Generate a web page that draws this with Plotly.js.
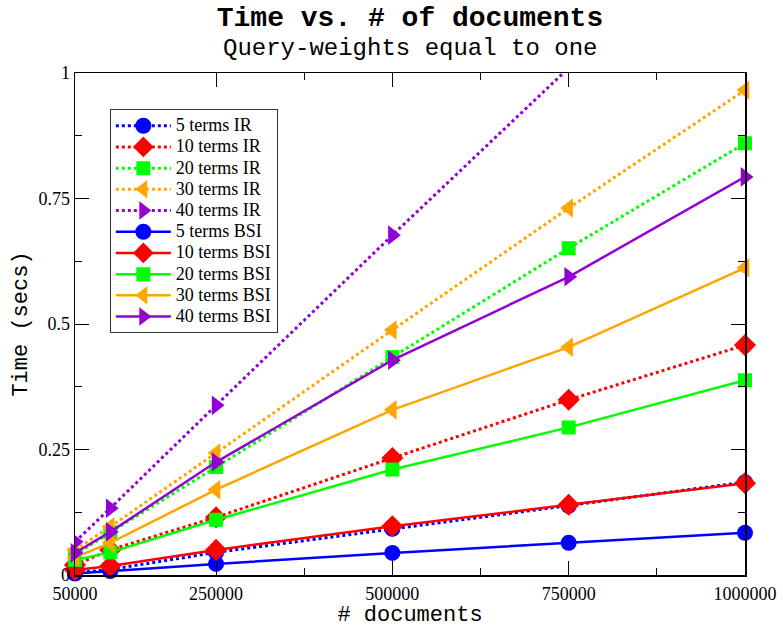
<!DOCTYPE html>
<html>
<head>
<meta charset="utf-8">
<script src="https://cdn.plot.ly/plotly-3.0.1.min.js"></script>
<style>
html,body{margin:0;padding:0;background:#fff;}
#chart{width:783px;height:628px;}
.legendtext{font-size:18px !important;}
</style>
</head>
<body>
<div id="chart"></div>
<script>
const docs = [50000, 100000, 250000, 500000, 750000, 1000000];
const ir5  = [0.004, 0.011, 0.045, 0.092, 0.138, 0.185];
const ir10 = [0.020, 0.050, 0.115, 0.233, 0.349, 0.458];
const ir20 = [0.040, 0.085, 0.215, 0.434, 0.651, 0.860];
const ir30 = [0.050, 0.096, 0.243, 0.488, 0.731, 0.966];
const ir40 = [0.066, 0.133, 0.338, 0.677, 1.010];
const bsi5  = [0.003, 0.008, 0.022, 0.044, 0.064, 0.084];
const bsi10 = [0.010, 0.018, 0.050, 0.097, 0.140, 0.183];
const bsi20 = [0.030, 0.045, 0.110, 0.210, 0.294, 0.388];
const bsi30 = [0.035, 0.064, 0.170, 0.329, 0.454, 0.612];
const bsi40 = [0.044, 0.086, 0.225, 0.428, 0.594, 0.793];
const names = ["5 terms IR","10 terms IR","20 terms IR","30 terms IR","40 terms IR",
               "5 terms BSI","10 terms BSI","20 terms BSI","30 terms BSI","40 terms BSI"];
const xTicks = [50000, 250000, 500000, 750000, 1000000];
const xTickText = ["50000","250000","500000","750000","1000000"];
const xMinor = [375000, 625000, 875000];
const yTicks = [0, 0.25, 0.5, 0.75, 1];
const yTickText = ["0","0.25","0.5","0.75","1"];

const colors = ["#0000ff","#ff0000","#00ff00","#ffa500","#9400d3"];
const symbols = ["circle","diamond","square","triangle-left","triangle-right"];
const sizes = [16, 17, 14, 17, 17];
const irData = [ir5, ir10, ir20, ir30, ir40];
const bsiData = [bsi5, bsi10, bsi20, bsi30, bsi40];

const traces = [];
irData.forEach((ys, i) => {
  traces.push({
    x: docs.slice(0, ys.length), y: ys, name: names[i], type: 'scatter', mode: 'lines+markers',
    cliponaxis: i === 4,
    line: {color: colors[i], width: 3, dash: 'dot'},
    marker: {color: colors[i], symbol: symbols[i], size: sizes[i]}
  });
});
bsiData.forEach((ys, i) => {
  traces.push({
    x: docs.slice(0, ys.length), y: ys, name: names[i+5], type: 'scatter', mode: 'lines+markers',
    cliponaxis: false,
    line: {color: colors[i], width: 2.5},
    marker: {color: colors[i], symbol: symbols[i], size: sizes[i]}
  });
});

const layout = {
  width: 783, height: 628,
  margin: {l: 75, r: 38, t: 73, b: 53},
  paper_bgcolor: '#fff', plot_bgcolor: '#fff',
  showlegend: true,
  title: {text: '<b>Time vs. # of documents</b>', font: {family: 'Liberation Mono', size: 28, color: '#000'},
          xref: 'paper', x: 0.5, xanchor: 'center', yref: 'container', y: 0.99, yanchor: 'top'},
  annotations: [{text: 'Query-weights equal to one', xref: 'paper', yref: 'paper', x: 0.5, y: 1.0,
                 xanchor: 'center', yanchor: 'bottom', yshift: 9, showarrow: false,
                 font: {family: 'Liberation Mono', size: 24, color: '#000'}}],
  xaxis: {
    range: [50000, 1000000], tickmode: 'array', tickvals: xTicks, ticktext: xTickText,
    ticks: 'inside', ticklen: 14, tickwidth: 1, tickcolor: '#000',
    showline: true, linecolor: '#000', linewidth: 1.5, mirror: 'allticks',
    showgrid: false, zeroline: false, ticklabelstandoff: 2,
    tickfont: {family: 'Liberation Serif', size: 18, color: '#000'},
    minor: {tickmode: 'array', tickvals: xMinor, ticks: 'inside', ticklen: 7, tickcolor: '#000', tickwidth: 1},
    title: {text: '# documents', font: {family: 'Liberation Mono', size: 22, color: '#000'}, standoff: 4}
  },
  yaxis: {
    range: [0, 1], tickmode: 'array', tickvals: yTicks, ticktext: yTickText,
    ticks: 'inside', ticklen: 14, tickwidth: 1, tickcolor: '#000',
    showline: true, linecolor: '#000', linewidth: 1.5, mirror: 'allticks',
    showgrid: false, zeroline: false,
    tickfont: {family: 'Liberation Serif', size: 18, color: '#000'},
    minor: {tick0: 0, dtick: 0.125, ticks: 'inside', ticklen: 7, tickcolor: '#000', tickwidth: 1},
    title: {text: 'Time (secs)', font: {family: 'Liberation Mono', size: 22, color: '#000'}, standoff: 4}
  },
  legend: {
    x: 0.052, y: 0.928, xanchor: 'left', yanchor: 'top',
    bgcolor: '#fff', bordercolor: '#333', borderwidth: 1,
    font: {family: 'Liberation Serif', size: 14, color: '#000'},
    tracegroupgap: 0, itemwidth: 55
  }
};

Plotly.newPlot('chart', traces, layout, {displayModeBar: false, staticPlot: true});
</script>
</body>
</html>
